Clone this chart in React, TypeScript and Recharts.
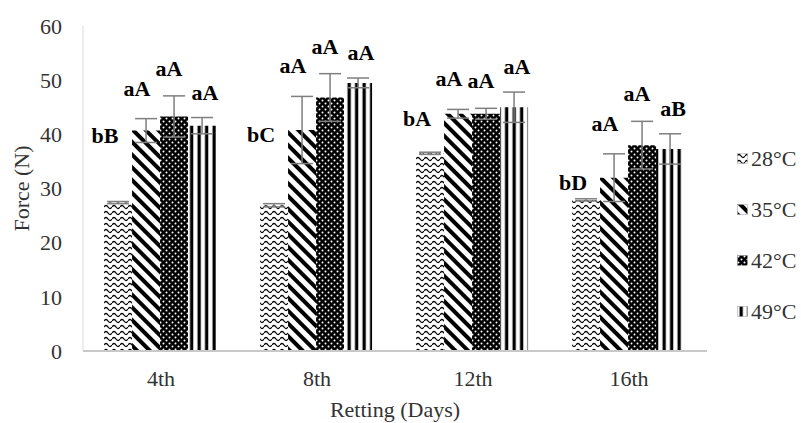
import React from 'react';
import { BarChart, Bar, XAxis, YAxis, ErrorBar, LabelList, Label } from 'recharts';

const categories = ['4th', '8th', '12th', '16th'];
const force28 = [27.4, 26.9, 36.5, 27.9];
const force35 = [40.7, 40.8, 43.8, 32.0];
const force42 = [43.3, 46.8, 43.8, 38.0];
const force49 = [41.6, 49.5, 45.0, 37.3];
const err28 = [0.2, 0.3, 0.2, 0.2];
const err35 = [2.2, 6.2, 0.8, 4.4];
const err42 = [3.8, 4.4, 1.0, 4.4];
const err49 = [1.5, 0.9, 2.8, 2.8];
const letters28 = ['bB', 'bC', 'bA', 'bD'];
const letters35 = ['aA', 'aA', 'aA', 'aA'];
const letters42 = ['aA', 'aA', 'aA', 'aA'];
const letters49 = ['aA', 'aA', 'aA', 'aB'];
const yTicks = [0, 10, 20, 30, 40, 50, 60];
const seriesNames = ['28°C', '35°C', '42°C', '49°C'];

const data = categories.map((day, i) => ({
  day,
  idx: i,
  v28: force28[i],
  v35: force35[i],
  v42: force42[i],
  v49: force49[i],
  e28: err28[i],
  e35: err35[i],
  e42: err42[i],
  e49: err49[i],
}));

const FONT = '"Liberation Serif", "Times New Roman", serif';
const PLOT_H = 325;
const PX = PLOT_H / 60;

const patternIds = ['p28', 'p35', 'p42', 'p49'];

// letters sit above the error bar; the 28°C ones sit level with the 35°C bar
const makeLabel = (letters: string[], own: number[], errs: number[], dx: number, lift: number, level?: number[]) =>
  (props: any) => {
    const { x, y, width, value } = props;
    const i = value as number;
    let baseY: number;
    if (level) {
      baseY = y - (level[i] - own[i]) * PX + 12;
    } else {
      baseY = y - errs[i] * PX - lift + 7;
    }
    return (
      <text x={x + width / 2 + dx} y={baseY} textAnchor="middle" fontFamily={FONT} fontWeight="bold" fontSize={22} fill="#000">
        {letters[i]}
      </text>
    );
  };

const yTitle = (props: any) => {
  const vb = props.viewBox;
  const cx = vb.x + 21;
  const cy = vb.y + vb.height / 2;
  return (
    <text x={cx} y={cy} transform={`rotate(-90 ${cx} ${cy})`} textAnchor="middle" dominantBaseline="central" fontFamily={FONT} fontSize={22} fill="#333">
      Force (N)
    </text>
  );
};

const LegendBox = () => (
  <div style={{ position: 'absolute', left: 737, top: 133, fontFamily: FONT, fontSize: 22, color: '#333' }}>
    {seriesNames.map((name, i) => (
      <div key={name} style={{ height: 51, display: 'flex', alignItems: 'center' }}>
        <svg width={11} height={11} style={{ marginRight: 3 }}>
          <rect x={0.5} y={0.5} width={10} height={10} fill={`url(#${patternIds[i]})`} stroke="#999" strokeWidth={0.5} />
        </svg>
        <span>{name}</span>
      </div>
    ))}
  </div>
);

export default function App() {
  return (
    <div style={{ position: 'absolute', left: 0, top: 0, width: 801, height: 423, background: '#fff' }}>
      <svg width={0} height={0} style={{ position: 'absolute' }}>
        <defs>
          <pattern id="p28" patternUnits="userSpaceOnUse" width={8} height={6}>
            <rect width={8} height={6} fill="#fff" />
            <path d="M0 3 Q2 0 4 3 T8 3" fill="none" stroke="#000" strokeWidth={1.3} />
          </pattern>
          <pattern id="p35" patternUnits="userSpaceOnUse" width={9} height={9} patternTransform="rotate(-45)">
            <rect width={9} height={9} fill="#fff" />
            <rect width={4} height={9} fill="#000" />
          </pattern>
          <pattern id="p42" patternUnits="userSpaceOnUse" width={6} height={6}>
            <rect width={6} height={6} fill="#000" />
            <circle cx={1.5} cy={1.5} r={1} fill="#fff" />
            <circle cx={4.5} cy={4.5} r={1} fill="#fff" />
          </pattern>
          <pattern id="p49" patternUnits="userSpaceOnUse" width={7.5} height={10}>
            <rect width={7.5} height={10} fill="#fff" />
            <rect x={2.5} width={3.3} height={10} fill="#000" />
          </pattern>
        </defs>
      </svg>
      <BarChart width={801} height={423} data={data} margin={{ top: 26, right: 94, left: 0, bottom: 0 }} barCategoryGap="13.5%" barGap={0}>
        <XAxis
          dataKey="day"
          height={72}
          tickLine={false}
          axisLine={{ stroke: '#c8c8c8', strokeWidth: 2 }}
          tickMargin={13}
          tick={{ fontFamily: FONT, fontSize: 22, fill: '#333' }}
          label={{ value: 'Retting (Days)', position: 'insideBottom', offset: 6, fontFamily: FONT, fontSize: 22, fill: '#333' }}
        />
        <YAxis
          width={83}
          domain={[0, 60]}
          ticks={yTicks}
          tickLine={false}
          axisLine={{ stroke: '#d9d9d9' }}
          tickMargin={15}
          tick={{ fontFamily: FONT, fontSize: 22, fill: '#333' }}
          label={<Label content={yTitle} />}
        />
        <Bar dataKey="v28" name="28°C" fill="url(#p28)" isAnimationActive={false}>
          <ErrorBar dataKey="e28" width={11} stroke="#7f7f7f" strokeWidth={1.5} direction="y" />
          <LabelList dataKey="idx" content={makeLabel(letters28, force28, err28, -13, 0, force35)} />
        </Bar>
        <Bar dataKey="v35" name="35°C" fill="url(#p35)" isAnimationActive={false}>
          <ErrorBar dataKey="e35" width={11} stroke="#7f7f7f" strokeWidth={1.5} direction="y" />
          <LabelList dataKey="idx" content={makeLabel(letters35, force35, err35, -9, 30)} />
        </Bar>
        <Bar dataKey="v42" name="42°C" fill="url(#p42)" isAnimationActive={false}>
          <ErrorBar dataKey="e42" width={11} stroke="#7f7f7f" strokeWidth={1.5} direction="y" />
          <LabelList dataKey="idx" content={makeLabel(letters42, force42, err42, -5, 27)} />
        </Bar>
        <Bar dataKey="v49" name="49°C" fill="url(#p49)" isAnimationActive={false}>
          <ErrorBar dataKey="e49" width={11} stroke="#7f7f7f" strokeWidth={1.5} direction="y" />
          <LabelList dataKey="idx" content={makeLabel(letters49, force49, err49, 3, 25)} />
        </Bar>
      </BarChart>
      <LegendBox />
    </div>
  );
}
